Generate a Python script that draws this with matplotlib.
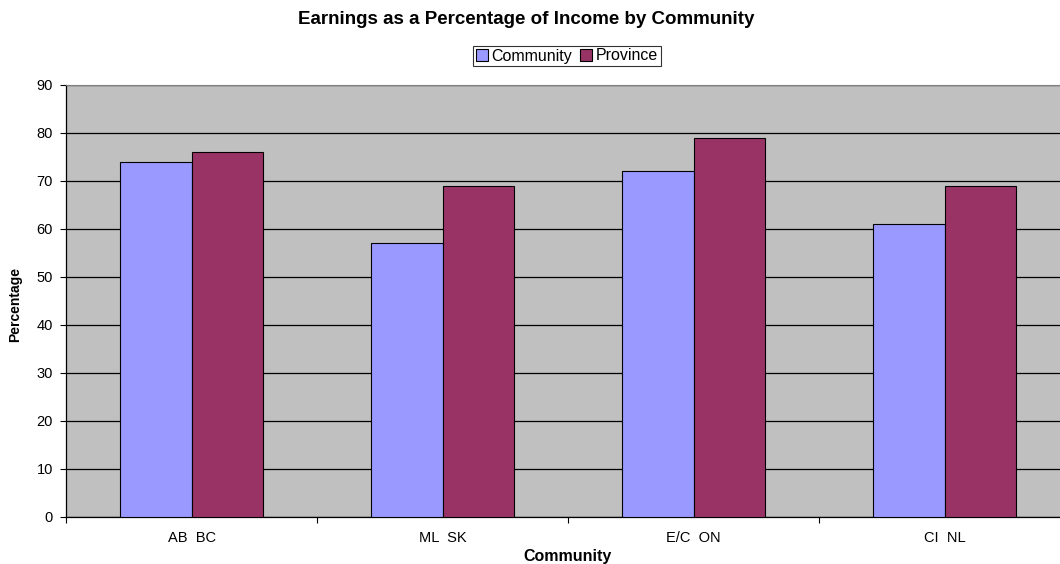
import numpy as np
import matplotlib.pyplot as plt
from matplotlib.ticker import FixedLocator

plt.rcParams['font.family'] = ['Liberation Sans', 'DejaVu Sans']

communities = ['AB  BC', 'ML  SK', 'E/C  ON', 'CI  NL']
community_pct = [74, 57, 72, 61]
province_pct = [76, 69, 79, 69]

W, H = 1060, 564
fig = plt.figure(figsize=(W / 100, H / 100), dpi=100)
ax = fig.add_axes([66 / W, 1 - 517 / H, 1004 / W, 432 / H])
ax.set_facecolor('#c0c0c0')

x = np.arange(len(communities))
w = 1 / 3.5
ax.bar(x - w / 2, community_pct, w, color='#9999ff', edgecolor='black', linewidth=0.8,
       label='Community', zorder=3)
ax.bar(x + w / 2, province_pct, w, color='#993366', edgecolor='black', linewidth=0.8,
       label='Province', zorder=3)

ax.set_xlim(-0.5, len(communities) - 0.5)
ax.set_ylim(0, 90)
ax.set_yticks(range(0, 91, 10))
ax.yaxis.grid(True, color='black', linewidth=0.9, zorder=1)
ax.set_axisbelow(True)

ax.set_xticks(x)
ax.set_xticklabels(communities)
ax.xaxis.set_minor_locator(FixedLocator(np.arange(-0.5, len(communities), 1.0)))
ax.tick_params(axis='x', which='major', length=0, pad=10, labelsize=10.5)
ax.tick_params(axis='x', which='minor', length=4, width=0.8, direction='out')
ax.tick_params(axis='y', length=4.5, width=0.8, labelsize=10.5, pad=5)

for side in ('left', 'bottom'):
    ax.spines[side].set_color('black')
    ax.spines[side].set_linewidth(0.9)
ax.spines['top'].set_color('#808080')
ax.spines['right'].set_visible(False)

# axis titles and chart title
fig.text(568 / W, 1 - 556 / H, 'Community', ha='center', va='center',
         fontsize=11.5, fontweight='bold')
fig.text(15 / W, 1 - 305 / H, 'Percentage', ha='center', va='center',
         rotation=90, fontsize=10, fontweight='bold')
fig.text(526 / W, 1 - 19 / H, 'Earnings as a Percentage of Income by Community',
         ha='center', va='center', fontsize=13.5, fontweight='bold')

leg = fig.legend(loc='center', bbox_to_anchor=(567 / W, 1 - 56 / H), ncol=2,
                 fontsize=11.5, frameon=True, fancybox=False, edgecolor='black',
                 borderpad=0.15, handlelength=0.75, handleheight=0.75,
                 handletextpad=0.25, columnspacing=0.5, borderaxespad=0)
leg.get_frame().set_linewidth(0.8)

fig.savefig('out.png', dpi=100)
